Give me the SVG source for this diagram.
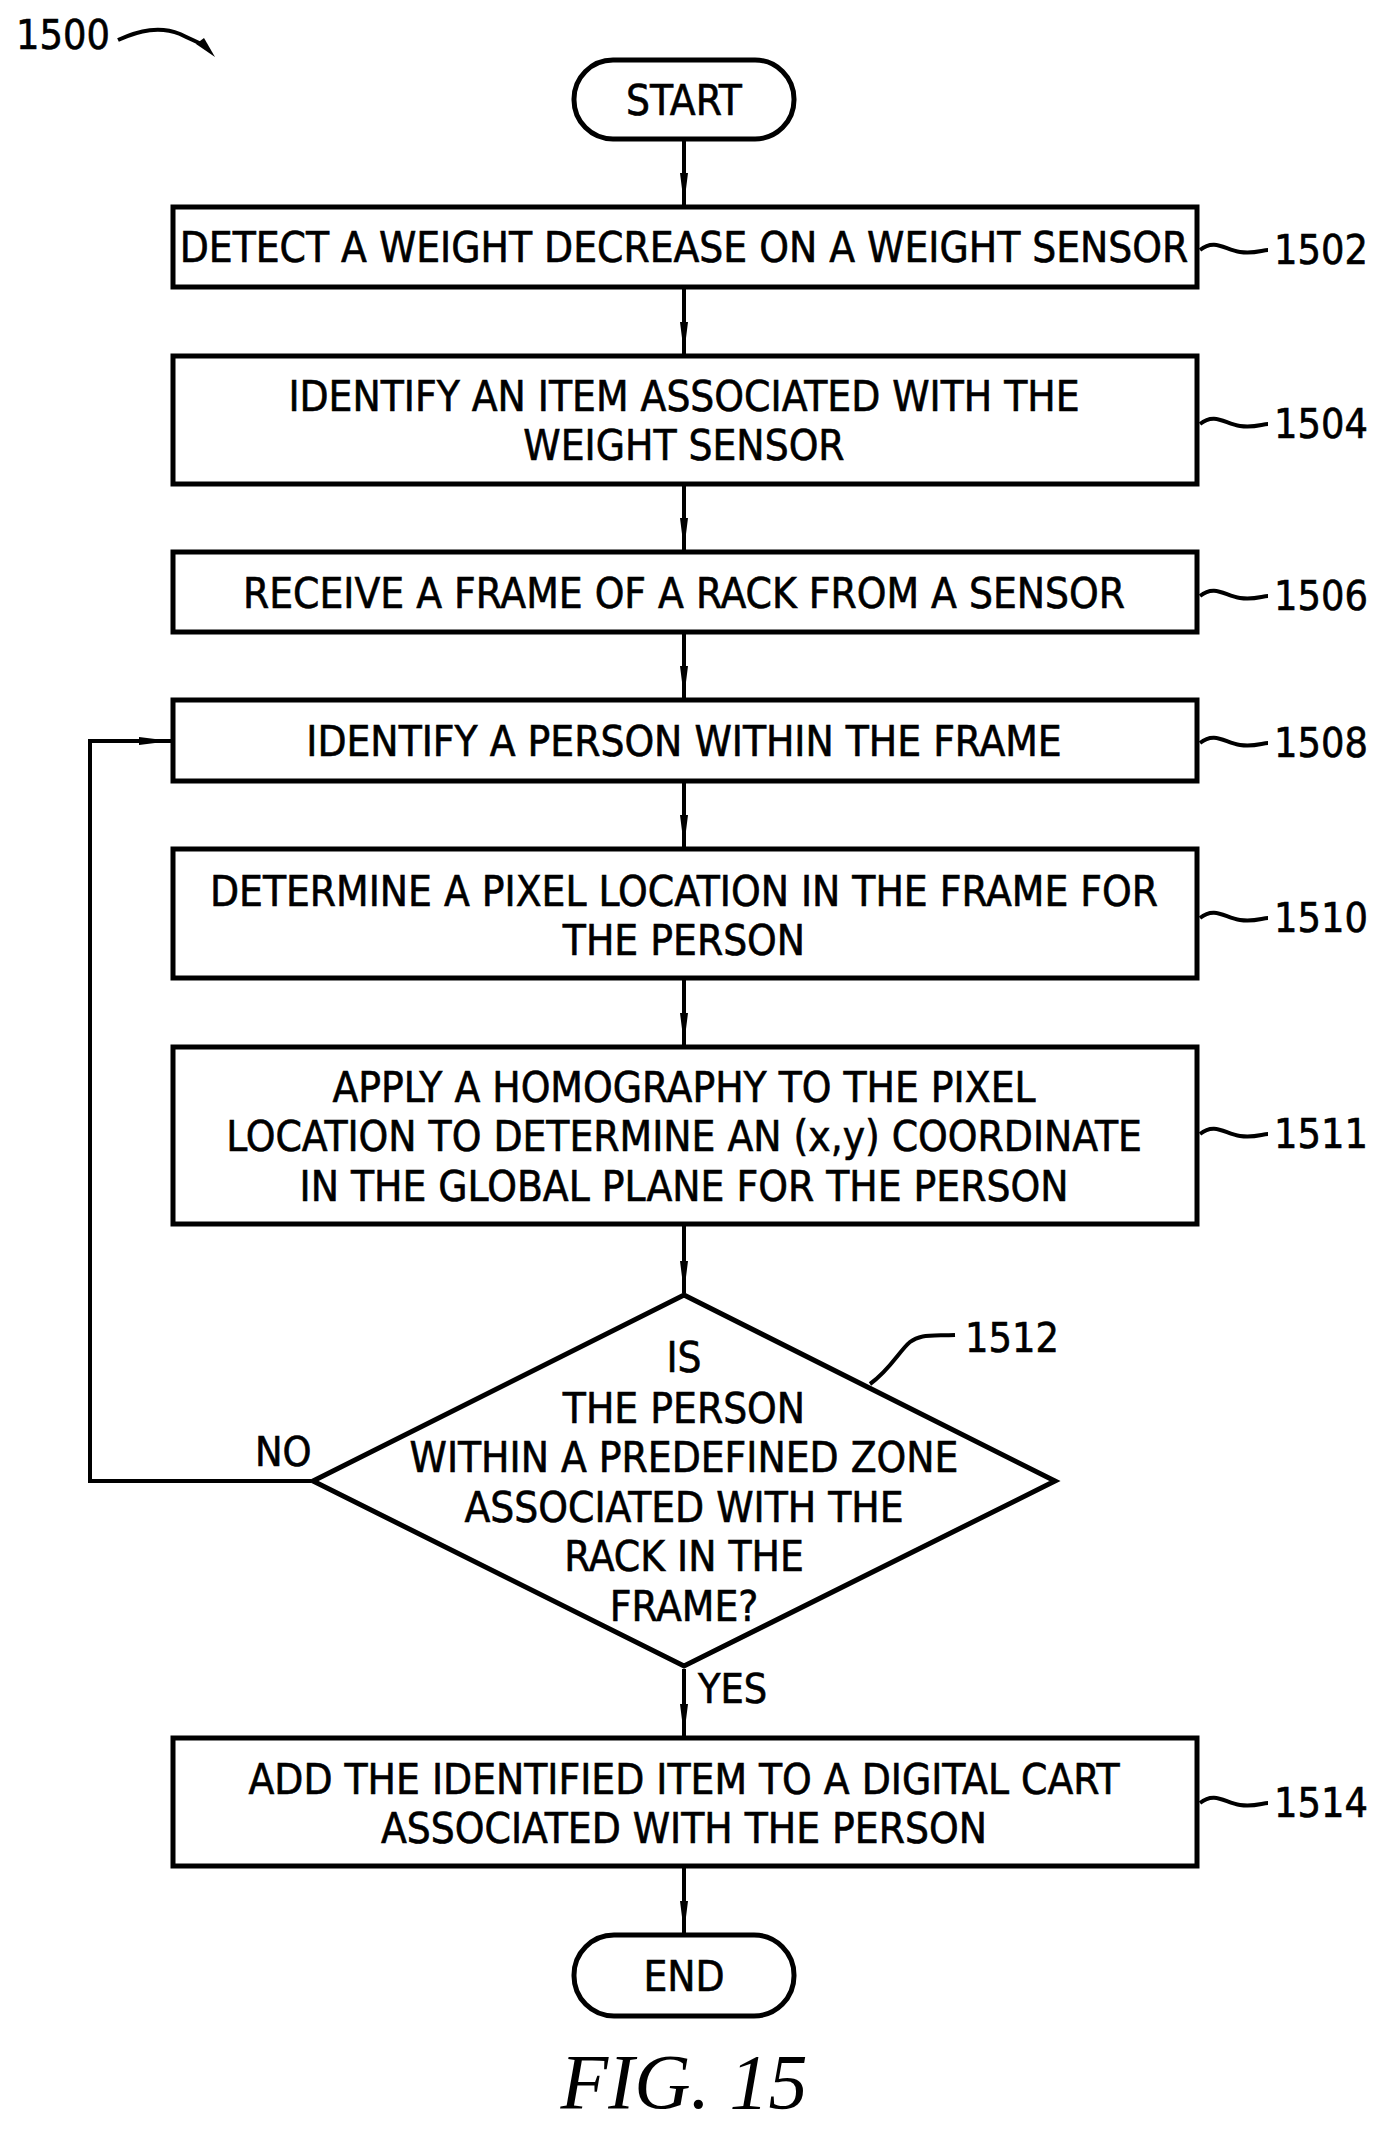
<svg xmlns="http://www.w3.org/2000/svg" width="1392" height="2146" viewBox="0 0 1392 2146">
<defs>
<style>
.s{fill:#fff;stroke:#000;stroke-width:5}
.t{font-family:"DejaVu Sans Condensed","DejaVu Sans",sans-serif;font-size:42px;text-anchor:middle;dominant-baseline:central;fill:#000;stroke:#000;stroke-width:0.6}
.l{font-family:"DejaVu Sans Condensed","DejaVu Sans",sans-serif;font-size:41px;dominant-baseline:central;fill:#000;stroke:#000;stroke-width:0.6}
.c{fill:none;stroke:#000;stroke-width:4}
.a{fill:#000}
</style>
<polygon id="ah" class="a" points="-4,-32 4,-32 0,0"/>
</defs>
<text class="l" x="16" y="35">1500</text>
<path class="c" d="M118,40 C140,30 160,26 180,34 C192,40 198,42 205,46"/>
<polygon class="a" points="196,44 204,38 215,57"/>
<g id="start"><rect class="s" x="574" y="60" width="220" height="79" rx="39"/><text class="t" x="684" y="100">START</text></g>
<g id="n1502"><rect class="s" x="173" y="207" width="1024" height="80"/><text class="t" x="684" y="247">DETECT A WEIGHT DECREASE ON A WEIGHT SENSOR</text><path class="c" d="M1200,250 C1215,238 1225,250 1240,252 C1255,254 1262,250 1268,250"/><text class="l" x="1274" y="250">1502</text></g>
<g id="n1504"><rect class="s" x="173" y="356" width="1024" height="128"/><text class="t" x="684" y="396">IDENTIFY AN ITEM ASSOCIATED WITH THE</text><text class="t" x="684" y="445">WEIGHT SENSOR</text><path class="c" d="M1200,424 C1215,412 1225,424 1240,426 C1255,428 1262,424 1268,424"/><text class="l" x="1274" y="424">1504</text></g>
<g id="n1506"><rect class="s" x="173" y="552" width="1024" height="80"/><text class="t" x="684" y="593">RECEIVE A FRAME OF A RACK FROM A SENSOR</text><path class="c" d="M1200,596 C1215,584 1225,596 1240,598 C1255,600 1262,596 1268,596"/><text class="l" x="1274" y="596">1506</text></g>
<g id="n1508"><rect class="s" x="173" y="700" width="1024" height="81"/><text class="t" x="684" y="741">IDENTIFY A PERSON WITHIN THE FRAME</text><path class="c" d="M1200,743 C1215,731 1225,743 1240,745 C1255,747 1262,743 1268,743"/><text class="l" x="1274" y="743">1508</text></g>
<g id="n1510"><rect class="s" x="173" y="849" width="1024" height="129"/><text class="t" x="684" y="891">DETERMINE A PIXEL LOCATION IN THE FRAME FOR</text><text class="t" x="684" y="940">THE PERSON</text><path class="c" d="M1200,918 C1215,906 1225,918 1240,920 C1255,922 1262,918 1268,918"/><text class="l" x="1274" y="918">1510</text></g>
<g id="n1511"><rect class="s" x="173" y="1047" width="1024" height="177"/><text class="t" x="684" y="1087">APPLY A HOMOGRAPHY TO THE PIXEL</text><text class="t" x="684" y="1136">LOCATION TO DETERMINE AN (x,y) COORDINATE</text><text class="t" x="684" y="1186">IN THE GLOBAL PLANE FOR THE PERSON</text><path class="c" d="M1200,1134 C1215,1122 1225,1134 1240,1136 C1255,1138 1262,1134 1268,1134"/><text class="l" x="1274" y="1134">1511</text></g>
<g id="n1512"><polygon class="s" points="684,1295 1055,1481 684,1666 313,1481"/>
<text class="t" x="684" y="1357">IS</text><text class="t" x="684" y="1408">THE PERSON</text><text class="t" x="684" y="1457">WITHIN A PREDEFINED ZONE</text><text class="t" x="684" y="1507">ASSOCIATED WITH THE</text><text class="t" x="684" y="1556">RACK IN THE</text><text class="t" x="684" y="1606">FRAME?</text>
<path class="c" d="M870,1384 C890,1370 900,1350 910,1342 C920,1334 930,1336 955,1335"/><text class="l" x="965" y="1338">1512</text></g>
<g id="n1514"><rect class="s" x="173" y="1738" width="1024" height="128"/><text class="t" x="684" y="1779">ADD THE IDENTIFIED ITEM TO A DIGITAL CART</text><text class="t" x="684" y="1828">ASSOCIATED WITH THE PERSON</text><path class="c" d="M1200,1803 C1215,1791 1225,1803 1240,1805 C1255,1807 1262,1803 1268,1803"/><text class="l" x="1274" y="1803">1514</text></g>
<g id="end"><rect class="s" x="574" y="1935" width="220" height="81" rx="40"/><text class="t" x="684" y="1976">END</text></g>
<g id="connectors">
<line class="c" x1="684" y1="141" x2="684" y2="205"/><use href="#ah" x="684" y="205"/>
<line class="c" x1="684" y1="289" x2="684" y2="354"/><use href="#ah" x="684" y="354"/>
<line class="c" x1="684" y1="486" x2="684" y2="550"/><use href="#ah" x="684" y="550"/>
<line class="c" x1="684" y1="634" x2="684" y2="698"/><use href="#ah" x="684" y="698"/>
<line class="c" x1="684" y1="783" x2="684" y2="847"/><use href="#ah" x="684" y="847"/>
<line class="c" x1="684" y1="980" x2="684" y2="1045"/><use href="#ah" x="684" y="1045"/>
<line class="c" x1="684" y1="1226" x2="684" y2="1293"/><use href="#ah" x="684" y="1293"/>
<line class="c" x1="684" y1="1669" x2="684" y2="1736"/><use href="#ah" x="684" y="1736"/>
<line class="c" x1="684" y1="1868" x2="684" y2="1933"/><use href="#ah" x="684" y="1933"/>
<polyline class="c" points="311,1481 90,1481 90,741 171,741"/>
<polygon class="a" points="139,737 139,745 171,741"/>
<text class="l" x="255" y="1452">NO</text>
<text class="l" x="698" y="1689">YES</text>
</g>
<text x="684" y="2108" text-anchor="middle" font-family="Liberation Serif,serif" font-style="italic" font-size="78">FIG. 15</text>
</svg>
